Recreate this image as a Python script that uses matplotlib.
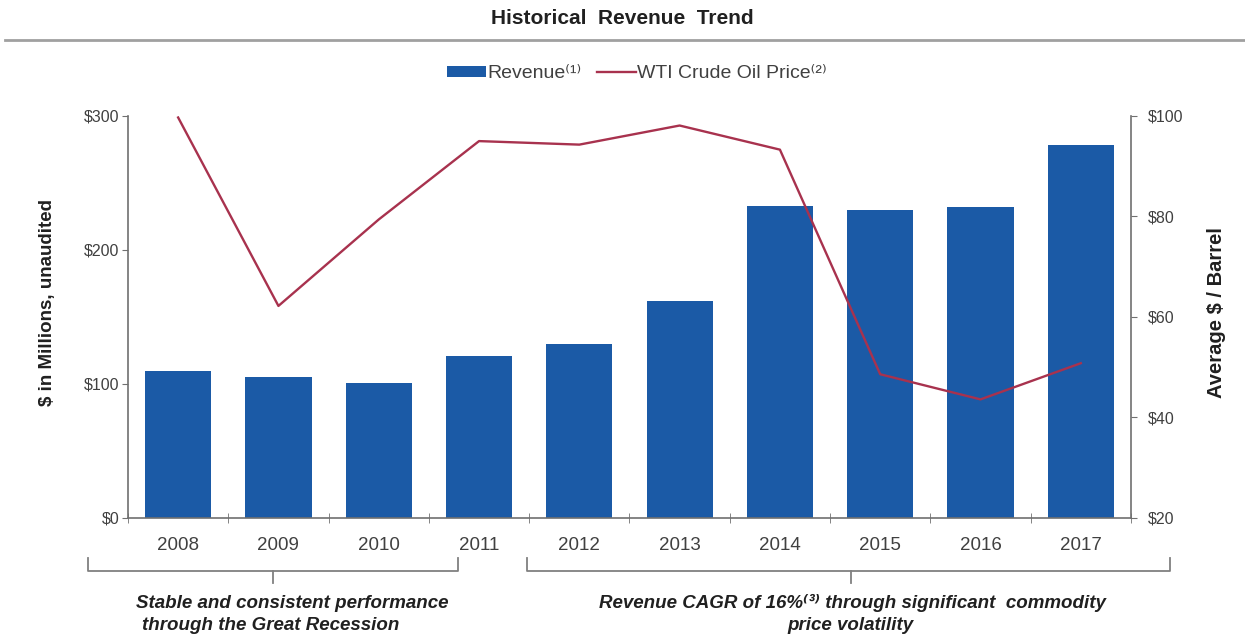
import matplotlib
matplotlib.use("Agg")
import matplotlib.pyplot as plt
from matplotlib.patches import Patch
from matplotlib.lines import Line2D
import numpy as np

plt.rcParams['font.family'] = ['Liberation Sans', 'DejaVu Sans']

years = ["2008", "2009", "2010", "2011", "2012", "2013", "2014", "2015", "2016", "2017"]
revenue = [110, 105, 101, 121, 130, 162, 233, 230, 232, 278]
oil_price = [99.7, 62.2, 79.4, 95.0, 94.3, 98.1, 93.3, 48.6, 43.6, 50.8]
left_ticks = [0, 100, 200, 300]
right_ticks = [20, 40, 60, 80, 100]

BAR = "#1B5AA6"
LINE = "#A8324E"
TXT = "#404040"

fig = plt.figure(figsize=(12.45, 6.39), dpi=100)
ax = fig.add_axes([0.1028, 0.1894, 0.8056, 0.6291])
ax2 = ax.twinx()

x = np.arange(len(years))
ax.bar(x, revenue, width=0.66, color=BAR, zorder=2)
ax2.plot(x, oil_price, color=LINE, lw=1.7, zorder=3)

ax.set_xlim(-0.5, len(years) - 0.5)
ax.set_ylim(0, 300)
ax2.set_ylim(20, 100)
ax.set_yticks(left_ticks)
ax.set_yticklabels([f"${v}" for v in left_ticks])
ax2.set_yticks(right_ticks)
ax2.set_yticklabels([f"${v}" for v in right_ticks])
ax.set_xticks(x)
ax.set_xticklabels(years)
ax.set_xticks(np.arange(-0.5, len(years), 1), minor=True)

for a in (ax, ax2):
    a.spines['top'].set_visible(False)
    for s in a.spines.values():
        s.set_color("#707070")
        s.set_linewidth(1.2)
ax.spines['right'].set_visible(False)
ax2.spines['left'].set_visible(False)
ax2.spines['bottom'].set_visible(False)

ax.tick_params(axis='x', which='major', length=0, pad=14, labelsize=13.5, labelcolor=TXT)
ax.tick_params(axis='x', which='minor', length=7, direction='inout', color="#707070")
ax.tick_params(axis='y', length=4, color="#707070", labelsize=11.5, labelcolor=TXT, pad=2)
ax2.tick_params(axis='y', length=4, color="#707070", labelsize=11.5, labelcolor=TXT, pad=8)
ax2.set_zorder(ax.get_zorder() + 1)
ax.patch.set_visible(False)

ax.set_ylabel("$ in Millions, unaudited", fontsize=13.5, fontweight='bold', color="#202020")
ax2.set_ylabel("Average $ / Barrel", fontsize=14.5, fontweight='bold', color="#202020")
ax.yaxis.set_label_coords(-72 / 1003, 0.535)
ax2.yaxis.set_label_coords(1 + 76 / 1003, 0.51)

# Title and rule
fig.text(0.4996, 1 - 19 / 639, "Historical  Revenue  Trend", ha='center', va='center',
         fontsize=15, fontweight='bold', color="#202020")
fig.add_artist(Line2D([5 / 1245, 1.0], [1 - 40 / 639] * 2, color="#A0A0A0", lw=2))

# Legend
handles = [Patch(facecolor=BAR, edgecolor='none'), Line2D([0], [0], color=LINE, lw=1.7)]
labels = ["Revenue⁽¹⁾", "WTI Crude Oil Price⁽²⁾"]
fig.legend(handles, labels, loc='center', bbox_to_anchor=(637 / 1245, 1 - 74 / 639), ncol=2,
           frameon=False, fontsize=14, handlelength=2.0, handleheight=0.55,
           columnspacing=0.8, handletextpad=0.05, labelcolor=TXT)

# Braces
def brace(x0, x1, xm):
    yt, yb, ytick = 1 - 558 / 639, 1 - 571 / 639, 1 - 583 / 639
    fig.add_artist(Line2D([x0 / 1245, x0 / 1245, x1 / 1245, x1 / 1245], [yt, yb, yb, yt],
                          color="#808080", lw=1.3))
    fig.add_artist(Line2D([xm / 1245, xm / 1245], [yb, ytick], color="#808080", lw=1.3))

brace(88, 458, 273)
brace(527, 1170, 851)

kw = dict(ha='center', va='center', fontsize=13.5, fontweight='bold', fontstyle='italic', color="#202020")
fig.text(292 / 1245, 1 - 603 / 639, "Stable and consistent performance", **kw)
fig.text(271 / 1245, 1 - 626 / 639, "through the Great Recession", **kw)
fig.text(852 / 1245, 1 - 603 / 639, "Revenue CAGR of 16%⁽³⁾ through significant  commodity", **kw)
fig.text(850 / 1245, 1 - 626 / 639, "price volatility", **kw)

fig.savefig("out.png", dpi=100, facecolor='white')
